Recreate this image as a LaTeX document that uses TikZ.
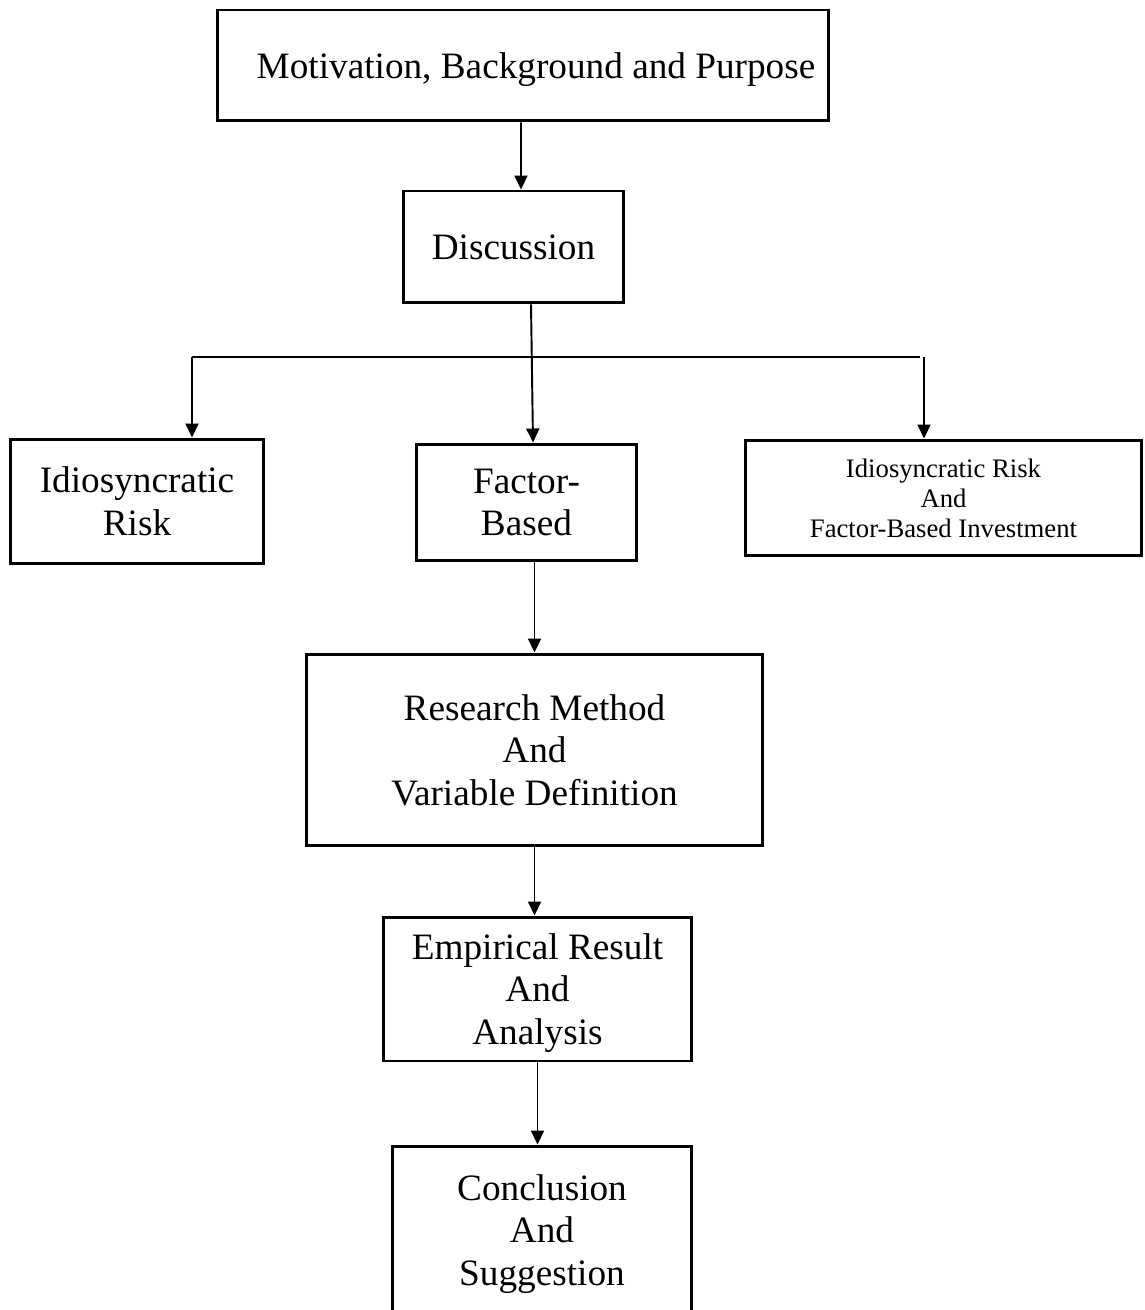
\documentclass[tikz,border=0pt]{standalone}
\usepackage{fontspec}
\setmainfont{Liberation Serif}
\usepackage{tikz}
\usetikzlibrary{calc, positioning, shapes, arrows.meta}

\begin{document}
\begin{tikzpicture}[x=0.02cm, y=-0.02cm,
					box/.style={draw, line width=1.7pt, rectangle, inner sep=0pt, align=center,
						font=\fontsize{21.2}{24.2}\selectfont},
					smallbox/.style={box, font=\fontsize{15.2}{17.1}\selectfont},
					arr/.style={line width=1.1pt, -{Triangle[length=0.28cm,width=0.26cm]}}]

\path[use as bounding box] (0,0) rectangle (1144,1310);

\node[box, minimum width=12.24cm, minimum height=2.22cm, text depth=0pt] (motiv) at (523,65.5)
	{\hspace{0.52cm}Motivation, Background and Purpose};
\node[box, minimum width=4.42cm, minimum height=2.24cm] (disc) at (513.5,247)
	{Discussion};
\node[box, minimum width=5.08cm, minimum height=2.5cm] (idio) at (137,501.5)
	{Idiosyncratic\\Risk};
\node[box, minimum width=4.42cm, minimum height=2.34cm] (factor) at (526.5,502.5)
	{Factor-\\Based};
\node[smallbox, minimum width=7.94cm, minimum height=2.32cm] (both) at (943.5,498)
	{Idiosyncratic Risk\\And\\Factor-Based Investment};
\node[box, minimum width=9.14cm, minimum height=3.84cm] (method) at (534.5,750)
	{Research Method\\And\\Variable Definition};
\node[box, minimum width=6.18cm, minimum height=2.88cm, text depth=0pt] (result) at (537.5,989)
	{Empirical Result\\And\\Analysis};
\node[box, minimum width=6.0cm, minimum height=3.52cm] (concl) at (542,1234)
	{Conclusion\\And\\Suggestion};

\coordinate (barL) at (192,357);
\coordinate (barR) at (920,357);
\coordinate (dropR) at (924,357);

\draw[arr] ($(motiv.south)+(-2,0)$) -- ($(disc.north)+(7.5,0)$);
\draw[arr] ($(disc.south)+(17.5,0)$) -- ($(factor.north)+(6.5,0)$);
\draw[line width=1.1pt] (barL) -- (barR);
\draw[arr] (barL) -- (barL |- idio.north);
\draw[arr] (dropR) -- (dropR |- both.north);
\draw[arr] (factor.south -| method.north) -- (method.north);
\draw[arr] (method.south) -- (method.south |- result.north);
\draw[arr] (result.south) -- (result.south |- concl.north);
\end{tikzpicture}
\end{document}
